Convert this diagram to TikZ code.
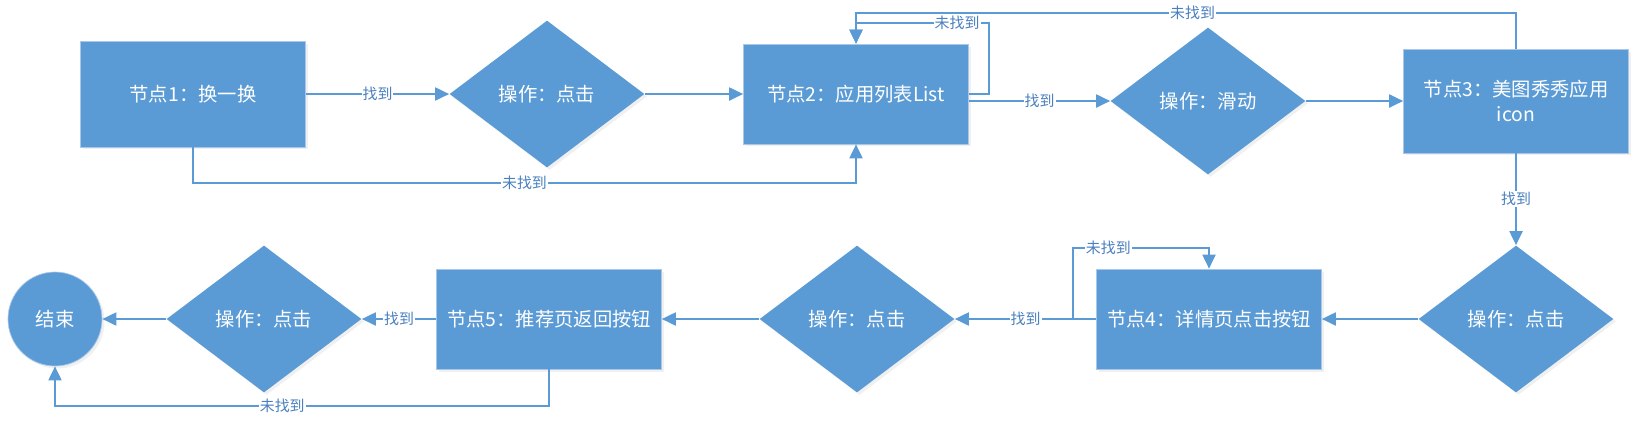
\documentclass[tikz,border=0pt]{standalone}
\usepackage{fontspec}
\setmainfont{Noto Sans CJK SC}
\usetikzlibrary{shapes.geometric,arrows.meta,positioning,shadows}
\definecolor{boxblue}{HTML}{5B9BD5}
\definecolor{edgeblue}{HTML}{A9C7E8}
\definecolor{tagblue}{HTML}{4A80C0}
\tikzset{
  stepbox/.style={rectangle, fill=boxblue, draw=edgeblue, line width=0.4pt, text=white,
    minimum width=4.5cm, minimum height=2.05cm, align=center,
    font=\fontsize{11}{14.2}\selectfont,
    drop shadow={opacity=0.12, shadow xshift=0.05cm, shadow yshift=-0.05cm}},
  opbox/.style={diamond, fill=boxblue, text=white, inner sep=0pt, aspect=1.33,
    minimum width=3.9cm, minimum height=2.94cm, font=\fontsize{11}{14.2}\selectfont,
    drop shadow={opacity=0.12, shadow xshift=0.05cm, shadow yshift=-0.05cm}},
  stopbox/.style={circle, fill=boxblue, draw=edgeblue, line width=0.4pt, text=white,
    minimum size=1.88cm, inner sep=0pt, font=\fontsize{11}{14.2}\selectfont,
    drop shadow={opacity=0.12, shadow xshift=0.05cm, shadow yshift=-0.05cm}},
  link/.style={draw=boxblue, line width=1.1pt, -{Triangle[length=0.28cm,width=0.26cm]}},
  tag/.style={fill=white, text=tagblue, inner sep=0.6pt, font=\fontsize{8.5}{10}\selectfont}
}
\begin{document}
\begin{tikzpicture}[x=0.02cm,y=-0.02cm]
\useasboundingbox (0,0) rectangle (1642,424);

\node (n1) at (193,94) [stepbox, minimum height=2.12cm] {节点1：换一换};
\node (d1) at (547,94) [opbox] {操作：点击};
\node (n2) at (856,94) [stepbox, minimum height=2cm] {节点2：应用列表List};
\node (d2) at (1208,101) [opbox] {操作：滑动};
\node (n3) at (1516,101) [stepbox, minimum height=2.08cm] {节点3：美图秀秀应用\\icon};
\node (d3) at (1516,319) [opbox] {操作：点击};
\node (n4) at (1209,319) [stepbox, minimum height=2cm] {节点4：详情页点击按钮};
\node (d4) at (857,319) [opbox] {操作：点击};
\node (n5) at (549,319) [stepbox, minimum height=2cm] {节点5：推荐页返回按钮};
\node (d5) at (264,319) [opbox] {操作：点击};
\node (stop) at (55,319) [stopbox] {结束};

\coordinate (low1) at (0,183);
\coordinate (loop2) at (989,23);
\coordinate (top3) at (0,12.6);
\coordinate (loop4) at (1073,248);
\coordinate (low5) at (0,406);

\foreach \a/\b in {d1/n2,d2/n3,d3/n4,d4/n5,d5/stop} {
\draw[link] (\a) -- (\b);
}
\foreach \a/\b in {n1/d1,n3/d3,n4/d4,n5/d5} {
\draw[link] (\a) -- node[tag] {找到} (\b);
}
\draw[link] (n2.east |- d2.west) -- node[tag] {找到} (d2.west);

\draw[link] (n1.south) -- (n1.south |- low1) -| node[tag, pos=0.25] {未找到} (n2.south);
\draw[link] (n2.east) -| (loop2) -| node[tag, pos=0.12] {未找到} (n2.north);
\draw[link] (n3.north) -- (n3.north |- top3) -| node[tag, pos=0.245] {未找到} (n2.north);
\draw[link] (loop4 |- n4.west) -- (loop4) -| node[tag, pos=0.13] {未找到} (n4.north);
\draw[link] (n5.south) -- (n5.south |- low5) -| node[tag, pos=0.27] {未找到} (stop.south);
\end{tikzpicture}
\end{document}
